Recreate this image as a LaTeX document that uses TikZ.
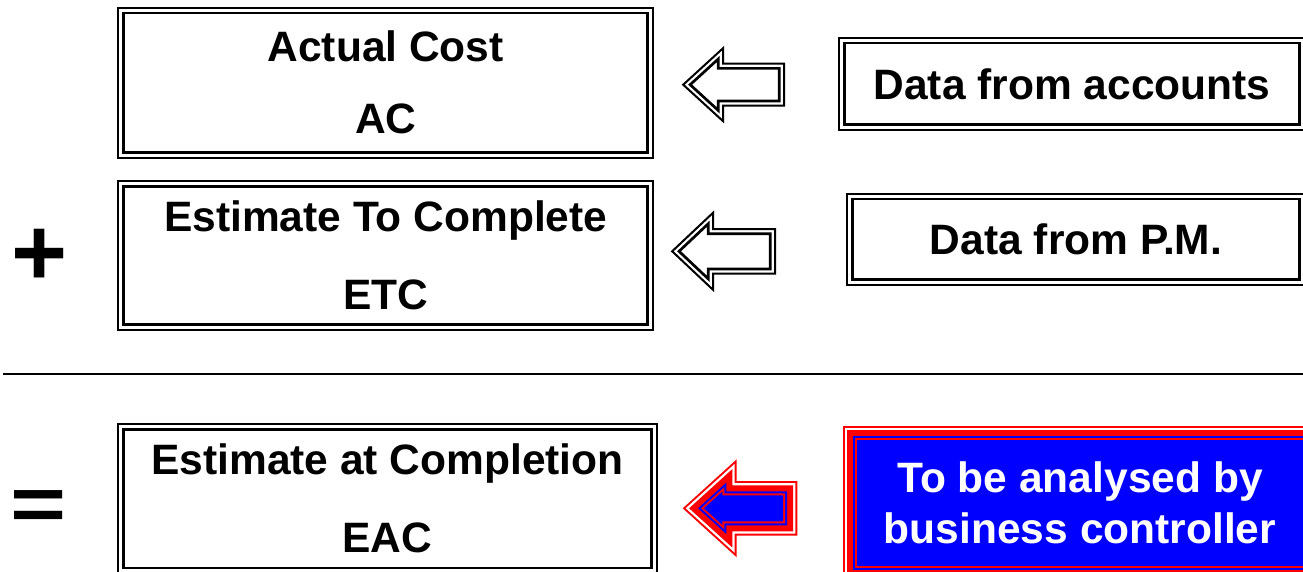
\documentclass[tikz,border=0pt]{standalone}
\usepackage{graphicx}
\usepackage{fontspec}
\setmainfont{Liberation Sans}
% block arrow pointing left, inset by #8 from its outer outline
\newcommand{\arwlayer}[8]{%
  \pgfmathsetmacro{\arwK}{#5/(#4-#2)}%
  \pgfmathsetmacro{\arwTS}{#8*sqrt(1+\arwK*\arwK)/\arwK}%
  \pgfmathsetmacro{\arwTX}{#2+\arwTS}%
  \pgfmathsetmacro{\arwHX}{#4-#8}%
  \pgfmathsetmacro{\arwHH}{#5-(#8+\arwTS)*\arwK}%
  \pgfmathsetmacro{\arwSH}{#6-#8}%
  \pgfmathsetmacro{\arwRX}{#7-#8}%
  \path[#1] (\arwTX,#3) -- (\arwHX,#3-\arwHH) -- (\arwHX,#3-\arwSH) -- (\arwRX,#3-\arwSH)
    -- (\arwRX,#3+\arwSH) -- (\arwHX,#3+\arwSH) -- (\arwHX,#3+\arwHH) -- cycle;%
}
\tikzset{
  dbox/.style={draw, line width=2pt, inner sep=0pt, align=center,
    font=\bfseries\fontsize{42.5}{72}\selectfont,
    path picture={\draw[line width=2.7pt]
      ([xshift=5.3pt,yshift=-5.3pt]path picture bounding box.north west) rectangle
      ([xshift=-5.3pt,yshift=5.3pt]path picture bounding box.south east);}},
  wide/.style={font=\bfseries\fontsize{42.5}{78}\selectfont},
  sbox/.style={dbox, font=\bfseries\fontsize{42.5}{50}\selectfont},
  ctrlbox/.style={fill=red, inner sep=0pt, align=center, text=white,
    font=\bfseries\fontsize{42.5}{50.6}\selectfont,
    path picture={
      \fill[white] ([xshift=2pt,yshift=-2pt]path picture bounding box.north west) rectangle ([xshift=-2pt,yshift=2pt]path picture bounding box.south east);
      \fill[red] ([xshift=4.3pt,yshift=-4.3pt]path picture bounding box.north west) rectangle ([xshift=-4.3pt,yshift=4.3pt]path picture bounding box.south east);
      \fill[blue] ([xshift=10.3pt,yshift=-10.3pt]path picture bounding box.north west) rectangle ([xshift=-10.3pt,yshift=10.3pt]path picture bounding box.south east);
      \fill[red] ([xshift=12.3pt,yshift=-12.3pt]path picture bounding box.north west) rectangle ([xshift=-12.3pt,yshift=12.3pt]path picture bounding box.south east);
      \fill[blue] ([xshift=14.3pt,yshift=-14.3pt]path picture bounding box.north west) rectangle ([xshift=-14.3pt,yshift=14.3pt]path picture bounding box.south east);
    }},
  sym/.style={inner sep=0pt, font=\bfseries\fontsize{96}{96}\selectfont},
  sepline/.style={line width=2.5pt},
  arrout/.style={draw, line width=2pt, line join=miter},
  arrin/.style={draw, line width=2.7pt, line join=miter}
}
\begin{document}
\begin{tikzpicture}[x=1pt, y=-1pt]
\useasboundingbox[fill=white] (0,0) rectangle (1303,572);

% left boxes
\node[dbox, minimum width=534.7pt, minimum height=150pt] (ac) at (385.7,82.7) {Actual Cost\\AC};
\node[dbox, wide, minimum width=534.7pt, minimum height=149pt] (etc) at (385.7,255.5) {Estimate To Complete\\ETC};
\node[dbox, wide, minimum width=538.4pt, minimum height=149pt] (eac) at (387.5,498.8) {Estimate at Completion\\EAC};

% right boxes
\node[sbox, minimum width=466pt, minimum height=92.3pt] (acc) at (1072,83.85) {Data from accounts};
\node[sbox, minimum width=458pt, minimum height=91.3pt] (pm) at (1076,239.3) {Data from P.M.};
\node[ctrlbox, minimum width=474pt, minimum height=154pt] (bc) at (1080,503) {To be analysed by\\business controller};

% symbols
\node[sym] (plus) at (39.2,257.8) {+};
\node[sym] (eq) at (39,511) {\scalebox{1}[0.8]{=}};

% separator
\coordinate (sl) at (3,374);
\coordinate (sr) at (1303,374);
\draw[sepline] (sl) -- (sr);

% block arrows
\arwlayer{arrout}{681.7}{84.7}{724}{38.7}{22}{785}{1}
\arwlayer{arrin}{681.7}{84.7}{724}{38.7}{22}{785}{5.7}
\arwlayer{arrout}{670.7}{251.3}{714}{40.8}{23.3}{776}{1}
\arwlayer{arrin}{670.7}{251.3}{714}{40.8}{23.3}{776}{5.7}
\arwlayer{fill=red}{682.7}{508.3}{736.7}{49}{27.3}{797.3}{0}
\arwlayer{fill=white}{682.7}{508.3}{736.7}{49}{27.3}{797.3}{2}
\arwlayer{fill=red}{682.7}{508.3}{736.7}{49}{27.3}{797.3}{4.3}
\arwlayer{fill=blue}{682.7}{508.3}{736.7}{49}{27.3}{797.3}{10.3}
\arwlayer{fill=red}{682.7}{508.3}{736.7}{49}{27.3}{797.3}{12.3}
\arwlayer{fill=blue}{682.7}{508.3}{736.7}{49}{27.3}{797.3}{14.3}
\end{tikzpicture}
\end{document}
